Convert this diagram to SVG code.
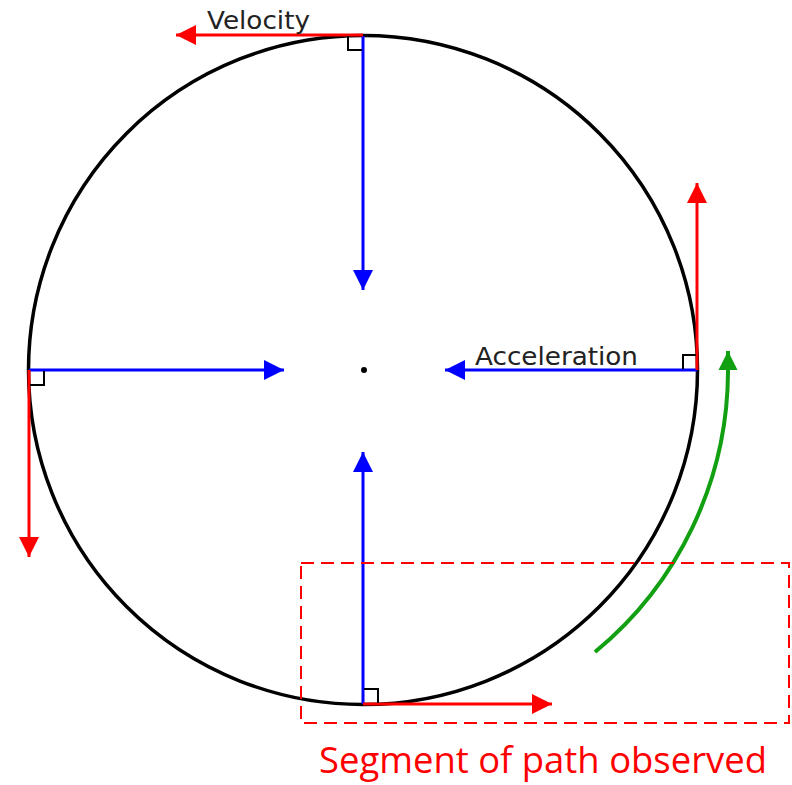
<svg xmlns="http://www.w3.org/2000/svg" width="792" height="785" viewBox="0 0 792 785">
<style>
.circ{fill:none;stroke:#000;stroke-width:3.5}
.blue{stroke:#0000ff;stroke-width:3;fill:none;marker-end:url(#hb)}
.red{stroke:#ff0000;stroke-width:3;fill:none;marker-end:url(#hr)}
.green{stroke:#12a012;stroke-width:4;fill:none;marker-end:url(#hg)}
.sq{fill:none;stroke:#000;stroke-width:2}
.lbl{font-family:"DejaVu Sans",sans-serif;font-size:25px;fill:#222}
.obs{font-family:"Open Sans","Liberation Sans",sans-serif;font-size:37px;fill:#ff0000}
</style>
<defs>
<marker id="hb" viewBox="0 0 20 20" refX="20" refY="10" markerWidth="20" markerHeight="20" markerUnits="userSpaceOnUse" orient="auto"><path d="M0,0 L20,10 L0,20 z" fill="#0000ff"/></marker>
<marker id="hr" viewBox="0 0 20 20" refX="20" refY="10" markerWidth="20" markerHeight="20" markerUnits="userSpaceOnUse" orient="auto"><path d="M0,0 L20,10 L0,20 z" fill="#ff0000"/></marker>
<marker id="hg" viewBox="0 0 20 20" refX="20" refY="10" markerWidth="19" markerHeight="20" markerUnits="userSpaceOnUse" orient="auto"><path d="M0,0 L20,10 L0,20 z" fill="#12a012"/></marker>
</defs>
<rect width="792" height="785" fill="#fff"/>
<g id="circle">
<circle class="circ" cx="363" cy="370" r="334.5"/>
<circle cx="364" cy="370" r="3" fill="#000"/>
</g>
<g id="connectors">
<line class="blue" x1="363" y1="36" x2="363" y2="290"/>
<line class="blue" x1="363" y1="704" x2="363" y2="452"/>
<line class="blue" x1="29" y1="370" x2="284" y2="370"/>
<line class="blue" x1="697" y1="370" x2="445" y2="370"/>
<line class="red" x1="363" y1="35" x2="176" y2="35"/>
<line class="red" x1="697" y1="370" x2="697" y2="183"/>
<line class="red" x1="29" y1="370" x2="29" y2="557"/>
<line class="red" x1="363" y1="704" x2="552" y2="704"/>
<path class="green" d="M595,652 A365,365 0 0 0 728,372 L728,351"/>
</g>
<g id="right-angles">
<path class="sq" d="M348,36 V50 H362"/>
<path class="sq" d="M683,369 V355 H696"/>
<path class="sq" d="M30,385 H44 V371"/>
<path class="sq" d="M364,689 H378 V703"/>
</g>
<g id="labels">
<text class="lbl" x="207" y="29" textLength="103" lengthAdjust="spacingAndGlyphs">Velocity</text>
<text class="lbl" x="475" y="365" textLength="163" lengthAdjust="spacingAndGlyphs">Acceleration</text>
</g>
<g id="segment">
<rect x="301" y="563" width="488" height="160" fill="none" stroke="#ff0000" stroke-width="2" stroke-dasharray="13,7"/>
<text class="obs" x="319" y="773" textLength="448" lengthAdjust="spacingAndGlyphs">Segment of path observed</text>
</g>
</svg>
